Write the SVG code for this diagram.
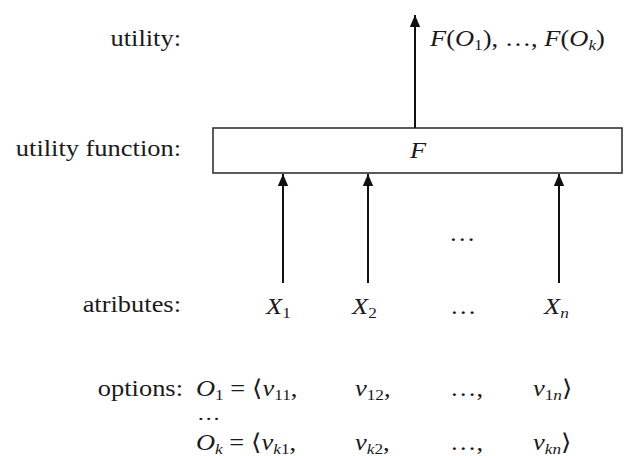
<svg xmlns="http://www.w3.org/2000/svg" width="629" height="456" viewBox="0 0 629 456">
<defs>
<marker id="ah" markerUnits="userSpaceOnUse" markerWidth="12" markerHeight="12" viewBox="0 0 12 12" refX="12" refY="6" orient="auto">
<path d="M0,0.8 L12,6 L0,11.2 Z" fill="#111"/>
</marker>
<style>
text{font-family:"Liberation Serif","Times New Roman",serif;font-size:23px;fill:#1a1a1a}
.lbl{text-anchor:end}
.m{font-style:italic}
.sub{font-size:15px;font-style:normal}
.isub{font-size:15px;font-style:italic}
.c{stroke:#111;stroke-width:2;fill:none;marker-end:url(#ah)}
</style>
</defs>
<g id="labels">
<text class="lbl" transform="translate(181,46) scale(1.15,1)">utility:</text>
<text class="lbl" transform="translate(181,156) scale(1.15,1)">utility function:</text>
<text class="lbl" transform="translate(181,312) scale(1.15,1)">atributes:</text>
<text class="lbl" transform="translate(183,396) scale(1.15,1)">options:</text>
</g>
<g id="node-output">
<text transform="translate(430,46) scale(1.15,1)"><tspan class="m">F</tspan>(<tspan class="m">O</tspan><tspan class="sub" dy="4">1</tspan><tspan dy="-4">), …, </tspan><tspan class="m">F</tspan>(<tspan class="m">O</tspan><tspan class="isub" dy="4">k</tspan><tspan dy="-4">)</tspan></text>
</g>
<g id="node-F">
<rect x="213" y="128" width="409" height="45" fill="#fff" stroke="#333" stroke-width="1.6"/>
<text class="m" text-anchor="middle" transform="translate(418,158) scale(1.15,1)">F</text>
</g>
<g id="node-X1"><text transform="translate(266,314) scale(1.15,1)"><tspan class="m">X</tspan><tspan class="sub" dy="4">1</tspan></text></g>
<g id="node-X2"><text transform="translate(352,314) scale(1.15,1)"><tspan class="m">X</tspan><tspan class="sub" dy="4">2</tspan></text></g>
<g id="node-dots"><text transform="translate(450,314) scale(1.15,1)">…</text></g>
<g id="node-Xn"><text transform="translate(544,314) scale(1.15,1)"><tspan class="m">X</tspan><tspan class="isub" dy="4">n</tspan></text></g>
<g id="mid-dots"><text transform="translate(449,241) scale(1.15,1)">…</text></g>
<g id="options">
<text transform="translate(196,396) scale(1.15,1)"><tspan class="m">O</tspan><tspan class="sub" dy="4">1</tspan><tspan dy="-4"> = ⟨</tspan><tspan class="m">v</tspan><tspan class="sub" dy="4">11</tspan><tspan dy="-4">,</tspan></text>
<text transform="translate(355,396) scale(1.15,1)"><tspan class="m">v</tspan><tspan class="sub" dy="4">12</tspan><tspan dy="-4">,</tspan></text>
<text transform="translate(450,396) scale(1.15,1)">…,</text>
<text transform="translate(533,396) scale(1.15,1)"><tspan class="m">v</tspan><tspan class="sub" dy="4">1</tspan><tspan class="isub">n</tspan><tspan dy="-4">⟩</tspan></text>
<text style="font-size:18px" transform="translate(197,420) scale(1.3,1)">…</text>
<text transform="translate(196,450) scale(1.15,1)"><tspan class="m">O</tspan><tspan class="isub" dy="4">k</tspan><tspan dy="-4"> = ⟨</tspan><tspan class="m">v</tspan><tspan class="isub" dy="4">k</tspan><tspan class="sub">1</tspan><tspan dy="-4">,</tspan></text>
<text transform="translate(355,450) scale(1.15,1)"><tspan class="m">v</tspan><tspan class="isub" dy="4">k</tspan><tspan class="sub">2</tspan><tspan dy="-4">,</tspan></text>
<text transform="translate(450,450) scale(1.15,1)">…,</text>
<text transform="translate(533,450) scale(1.15,1)"><tspan class="m">v</tspan><tspan class="isub" dy="4">kn</tspan><tspan dy="-4">⟩</tspan></text>
</g>
<g id="connectors">
<line class="c" x1="415" y1="128" x2="415" y2="15"/>
<line class="c" x1="283" y1="283" x2="283" y2="174"/>
<line class="c" x1="368" y1="283" x2="368" y2="174"/>
<line class="c" x1="559" y1="283" x2="559" y2="174"/>
</g>
</svg>
